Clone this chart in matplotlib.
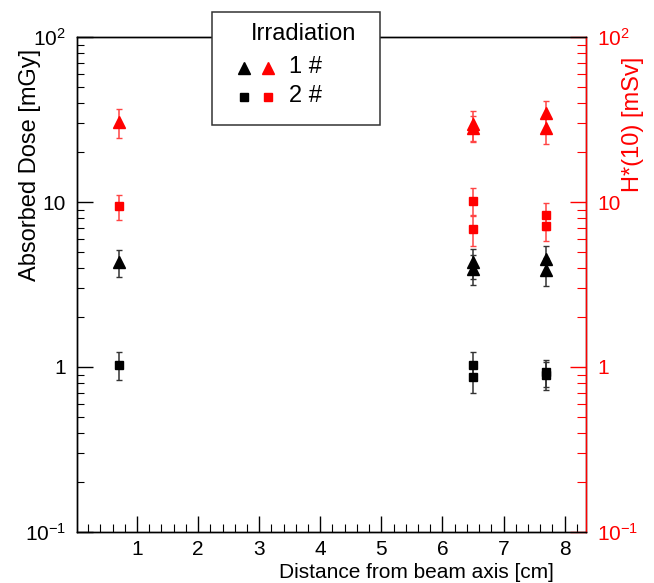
import numpy as np
import matplotlib
matplotlib.use('Agg')
import matplotlib.pyplot as plt
from matplotlib.ticker import FixedLocator, MultipleLocator, LogLocator, NullFormatter, FixedFormatter
from matplotlib.lines import Line2D
from matplotlib.patches import Rectangle

plt.rcParams['font.family'] = ['Liberation Sans', 'DejaVu Sans']
plt.rcParams['mathtext.fontset'] = 'custom'
plt.rcParams['mathtext.rm'] = 'Liberation Sans'
plt.rcParams['mathtext.it'] = 'Liberation Sans:italic'

# distance from beam axis [cm]
dist = [0.7, 6.5, 6.5, 7.7, 7.7]

# absorbed dose [mGy], irradiation 1 (triangles) and 2 (squares)
dose1 = [4.3, 4.3, 3.95, 4.5, 3.85]
dose1_err = [0.8, 0.9, 0.8, 0.9, 0.75]
dose2 = [1.03, 1.03, 0.87, 0.93, 0.90]
dose2_err = [0.2, 0.2, 0.17, 0.17, 0.17]

# H*(10) [mSv]
h1 = [30.5, 29.5, 28.0, 34.5, 28.0]
h1_err = [6.0, 6.0, 5.0, 6.5, 5.5]
h2 = [9.4, 10.2, 6.9, 8.3, 7.2]
h2_err = [1.6, 2.0, 1.5, 1.5, 1.4]

ytick_vals = [0.1, 1, 10, 100]
ytick_labels = [r'$10^{-1}$', '1', '10', r'$10^{2}$']
leg_labels = ['1 #', '2 #']
leg_title = 'Irradiation'

W, H = 654, 583
fs = 15
fs_ytitle = 17
fig = plt.figure(figsize=(W / 100, H / 100), dpi=100)
ax = fig.add_axes([0.118, 0.0875, 0.778, 0.849])
ax2 = ax.twinx()

for a in (ax, ax2):
    a.set_yscale('log')
    a.set_ylim(0.1, 100)
    a.set_xlim(0.02, 8.35)

ax.errorbar(dist, dose1, yerr=dose1_err, fmt='^', color='black', ms=9,
            elinewidth=1.1, capsize=2.5, ecolor='#333333')
ax.errorbar(dist, dose2, yerr=dose2_err, fmt='s', color='black', ms=6,
            elinewidth=1.1, capsize=2.5, ecolor='#333333')
ax2.errorbar(dist, h1, yerr=h1_err, fmt='^', color='red', ms=9,
             elinewidth=1.1, capsize=2.5, ecolor='#ff4444')
ax2.errorbar(dist, h2, yerr=h2_err, fmt='s', color='red', ms=6,
             elinewidth=1.1, capsize=2.5, ecolor='#ff4444')

# x axis
ax.set_xticks(range(1, 9))
ax.xaxis.set_minor_locator(MultipleLocator(0.2))
ax.tick_params(axis='x', which='major', direction='in', length=11.5, width=1,
               labelsize=fs, pad=6, top=False)
ax.tick_params(axis='x', which='minor', direction='in', length=6, width=0.8, top=False)
ax.set_xlabel('Distance from beam axis [cm]', fontsize=fs, ha='right')
ax.xaxis.set_label_coords(0.937, -0.062)

# left axis
ax.yaxis.set_major_locator(FixedLocator(ytick_vals))
ax.yaxis.set_major_formatter(FixedFormatter(ytick_labels))
ax.yaxis.set_minor_locator(LogLocator(base=10, subs=np.arange(2, 10)))
ax.yaxis.set_minor_formatter(NullFormatter())
ax.tick_params(axis='y', which='major', direction='in', length=11.5, width=1,
               labelsize=fs, right=False, pad=8)
ax.tick_params(axis='y', which='minor', direction='in', length=5, width=0.8, right=False)
ax.set_ylabel('Absorbed Dose [mGy]', fontsize=fs_ytitle, ha='right', va='center')
ax.yaxis.set_label_coords(-0.093, 0.976)

# right axis
ax2.yaxis.set_major_locator(FixedLocator(ytick_vals))
ax2.yaxis.set_major_formatter(FixedFormatter(ytick_labels))
ax2.yaxis.set_minor_locator(LogLocator(base=10, subs=np.arange(2, 10)))
ax2.yaxis.set_minor_formatter(NullFormatter())
ax2.tick_params(axis='y', which='major', direction='in', length=11.5, width=1,
                labelsize=fs, colors='red', pad=8)
ax2.tick_params(axis='y', which='minor', direction='in', length=6.5, width=0.8, colors='red')
ax2.set_ylabel('H*(10) [mSv]', fontsize=fs_ytitle, color='red', ha='right', va='center')
ax2.yaxis.set_label_coords(1.092, 0.96)

for a in (ax, ax2):
    for s in a.spines.values():
        s.set_linewidth(1)
ax2.spines['right'].set_color('red')

# legend box drawn by hand (figure pixel positions)
def fx(px):
    return px / W

def fy(py):
    return 1 - py / H

fig.add_artist(Rectangle((fx(212), fy(125)), fx(380) - fx(212), fy(12) - fy(125),
                         transform=fig.transFigure, facecolor='white',
                         edgecolor='#333333', lw=1.1, zorder=10))
fig.text(fx(304), fy(34), leg_title, fontsize=17, ha='center', va='center', zorder=11)
rows = [('^', 8.5, 68), ('s', 5.5, 97)]
for (mk, ms, py), lab in zip(rows, leg_labels):
    for px, c in ((244, 'black'), (268, 'red')):
        fig.add_artist(Line2D([fx(px)], [fy(py)], marker=mk, ms=ms, color=c, ls='none',
                              transform=fig.transFigure, zorder=11))
    fig.text(fx(289), fy(py - 1), lab, fontsize=17, ha='left', va='center', zorder=11)

fig.savefig('out.png', dpi=100)
